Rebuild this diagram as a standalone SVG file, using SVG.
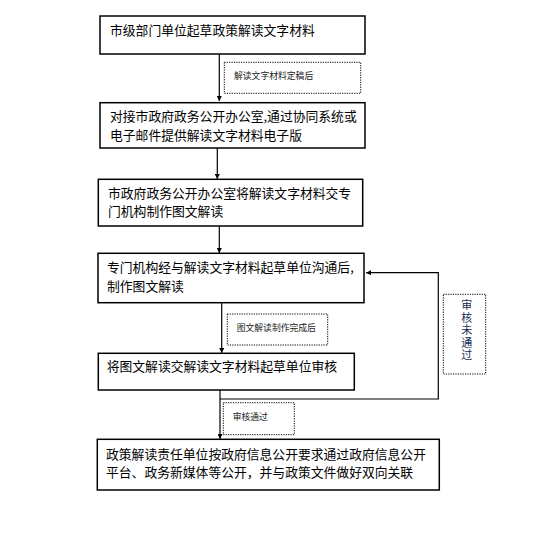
<svg xmlns="http://www.w3.org/2000/svg" width="534" height="539" viewBox="0 0 534 539">
<defs>
<style>
.box{fill:#fff;stroke:#000;stroke-width:1.5}
.lbl{fill:none;stroke:#000;stroke-width:1;stroke-dasharray:1.2 1.2}
.t{font-family:"Noto Sans CJK SC","Noto Sans",sans-serif;font-size:12.8px;fill:#000}
.v{font-family:"Noto Sans CJK SC","Noto Sans",sans-serif;font-size:11px;fill:#1a2a55;writing-mode:vertical-rl;letter-spacing:1.5px}
.s{font-family:"Noto Sans CJK SC","Noto Sans",sans-serif;font-size:8.8px;fill:#222}
.c{fill:none;stroke:#000;stroke-width:1.2}
</style>
<marker id="ah" viewBox="0 0 8 8" refX="8" refY="4" markerWidth="5" markerHeight="5" orient="auto" markerUnits="userSpaceOnUse">
<path d="M0,0 L8,4 L0,8 z" fill="#000"/>
</marker>
</defs>
<rect width="534" height="539" fill="#fff"/>
<g id="connectors">
<line class="c" x1="219.3" y1="54" x2="219.3" y2="101" marker-end="url(#ah)"/>
<line class="c" x1="217.3" y1="148" x2="217.3" y2="179" marker-end="url(#ah)"/>
<line class="c" x1="219.3" y1="226" x2="219.3" y2="253" marker-end="url(#ah)"/>
<line class="c" x1="221.7" y1="303" x2="221.7" y2="353" marker-end="url(#ah)"/>
<line class="c" x1="220" y1="390" x2="220" y2="439" stroke-width="2" marker-end="url(#ah)"/>
<polyline class="c" points="220,399 438.3,399 438.3,272.7 366,272.7" marker-end="url(#ah)"/>
</g>
<g id="n1">
<rect class="box" x="100" y="16" width="265" height="38"/>
<text class="t" x="110" y="35.3">市级部门单位起草政策解读文字材料</text>
</g>
<g id="l1">
<rect class="lbl" x="224.3" y="62.3" width="136.4" height="31"/>
<text class="s" x="234" y="79">解读文字材料定稿后</text>
</g>
<g id="n2">
<rect class="box" x="100" y="102.7" width="265" height="45.3"/>
<text class="t" x="110" y="121.3">对接市政府政务公开办公室,通过协同系统或</text>
<text class="t" x="110" y="139.6">电子邮件提供解读文字材料电子版</text>
</g>
<g id="n3">
<rect class="box" x="98.3" y="179.3" width="264.4" height="46.7"/>
<text class="t" x="108" y="197.9">市政府政务公开办公室将解读文字材料交专</text>
<text class="t" x="108" y="216.3">门机构制作图文解读</text>
</g>
<g id="n4">
<rect class="box" x="98" y="253.3" width="266" height="49.4"/>
<text class="t" x="107" y="272.3">专门机构经与解读文字材料起草单位沟通后,</text>
<text class="t" x="107" y="291.3">制作图文解读</text>
</g>
<g id="l4">
<rect class="lbl" x="227.3" y="314" width="100.4" height="31"/>
<text class="s" x="236.7" y="330.7">图文解读制作完成后</text>
</g>
<g id="n5">
<rect class="box" x="98.3" y="353.3" width="256" height="36.7"/>
<text class="t" x="106.7" y="371.3">将图文解读交解读文字材料起草单位审核</text>
</g>
<g id="l5">
<rect class="lbl" x="223.3" y="402.7" width="71" height="32"/>
<text class="s" x="232.7" y="419.7">审核通过</text>
</g>
<g id="lfb">
<rect class="lbl" x="443.3" y="294.3" width="42.4" height="79.7"/>
<text class="v" x="466.7" y="299.5">审核未通过</text>
</g>
<g id="n6">
<rect class="box" x="97.3" y="439.3" width="342" height="50.7"/>
<text class="t" x="106" y="458.6">政策解读责任单位按政府信息公开要求通过政府信息公开</text>
<text class="t" x="106" y="477.3">平台、政务新媒体等公开，并与政策文件做好双向关联</text>
</g>
</svg>
